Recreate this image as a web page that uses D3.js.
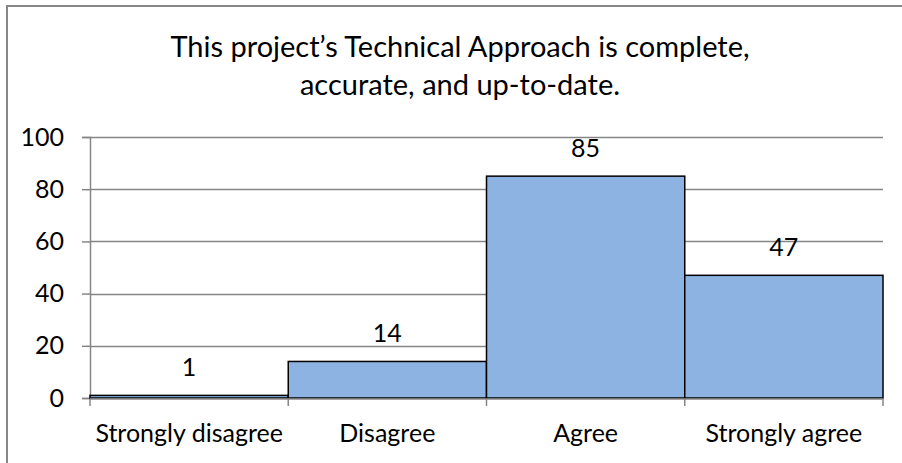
<!DOCTYPE html>
<html>
<head>
<meta charset="utf-8">
<script src="https://cdn.jsdelivr.net/npm/d3@7"></script>
<style>
  html, body { margin: 0; padding: 0; background: #fff; }
  svg text { font-family: Lato, "Open Sans", sans-serif; fill: #000; }
</style>
</head>
<body>
<div id="chart"></div>
<script>
var width = 902,
    height = 463;

// data
const titleLines = ["This project\u2019s Technical Approach is complete,", "accurate, and up-to-date."];
const categories = ["Strongly disagree", "Disagree", "Agree", "Strongly agree"];
const counts = [1, 14, 85, 47];
const yTicks = [0, 20, 40, 60, 80, 100];

var plot = { left: 90, right: 883, top: 137, bottom: 398 };

var svg = d3.select("#chart")
    .append("svg")
    .attr("width", width)
    .attr("height", height);

// outer chart border (left and top visible)
svg.append("rect")
    .attr("x", 7)
    .attr("y", 6)
    .attr("width", 1000)
    .attr("height", 1000)
    .attr("fill", "none")
    .attr("stroke", "#878787")
    .attr("stroke-width", 2);

var x = d3.scaleBand()
    .domain(categories)
    .range([plot.left, plot.right])
    .padding(0);

var y = d3.scaleLinear()
    .domain([0, 100])
    .range([plot.bottom, plot.top]);

// title
svg.append("text")
    .attr("x", 460)
    .attr("y", 57)
    .attr("text-anchor", "middle")
    .attr("font-size", "29px")
    .selectAll("tspan")
    .data(titleLines)
    .join("tspan")
    .attr("x", 460)
    .attr("dy", (d, i) => i == 0 ? 0 : 38)
    .text(d => d);

// gridlines
svg.append("g")
    .selectAll("line")
    .data(yTicks.filter(d => d > 0))
    .join("line")
    .attr("x1", plot.left)
    .attr("x2", plot.right)
    .attr("y1", d => Math.round(y(d)) + 0.5)
    .attr("y2", d => Math.round(y(d)) + 0.5)
    .attr("stroke", "#868686")
    .attr("stroke-width", 1.5);

// y axis
var yAxis = svg.append("g")
    .attr("transform", "translate(" + plot.left + ",0)")
    .call(d3.axisLeft(y).tickValues(yTicks).tickSize(8).tickPadding(18));
yAxis.selectAll("line").attr("stroke", "#868686").attr("stroke-width", 1.5);
yAxis.select(".domain").attr("stroke", "#868686").attr("stroke-width", 1.5);
yAxis.selectAll("text").attr("font-size", "25px").attr("font-family", null);

// bars
svg.append("g")
    .selectAll("rect")
    .data(counts)
    .join("rect")
    .attr("x", (d, i) => x(categories[i]))
    .attr("y", d => y(d))
    .attr("width", x.bandwidth())
    .attr("height", d => y(0) - y(d))
    .attr("fill", "#8DB3E2")
    .attr("stroke", "#000")
    .attr("stroke-width", 1.5);

// x axis: tick marks at category boundaries
var xAxis = svg.append("g");
xAxis.append("line")
    .attr("x1", plot.left)
    .attr("x2", plot.right)
    .attr("y1", plot.bottom + 1)
    .attr("y2", plot.bottom + 1)
    .attr("stroke", "#868686")
    .attr("stroke-width", 1.5);
xAxis.selectAll(".bound")
    .data(categories.concat([null]))
    .join("line")
    .attr("class", "bound")
    .attr("x1", (d, i) => plot.left + i * x.bandwidth())
    .attr("x2", (d, i) => plot.left + i * x.bandwidth())
    .attr("y1", plot.bottom + 1)
    .attr("y2", plot.bottom + 8)
    .attr("stroke", "#868686")
    .attr("stroke-width", 1.5);
xAxis.selectAll("text")
    .data(categories)
    .join("text")
    .attr("x", d => x(d) + x.bandwidth() / 2)
    .attr("y", 442)
    .attr("text-anchor", "middle")
    .attr("font-size", "25px")
    .text(d => d);

// value labels
svg.append("g")
    .selectAll("text")
    .data(counts)
    .join("text")
    .attr("x", (d, i) => x(categories[i]) + x.bandwidth() / 2)
    .attr("y", d => y(d) - 19)
    .attr("text-anchor", "middle")
    .attr("font-size", "25px")
    .text(d => d);
</script>
</body>
</html>
